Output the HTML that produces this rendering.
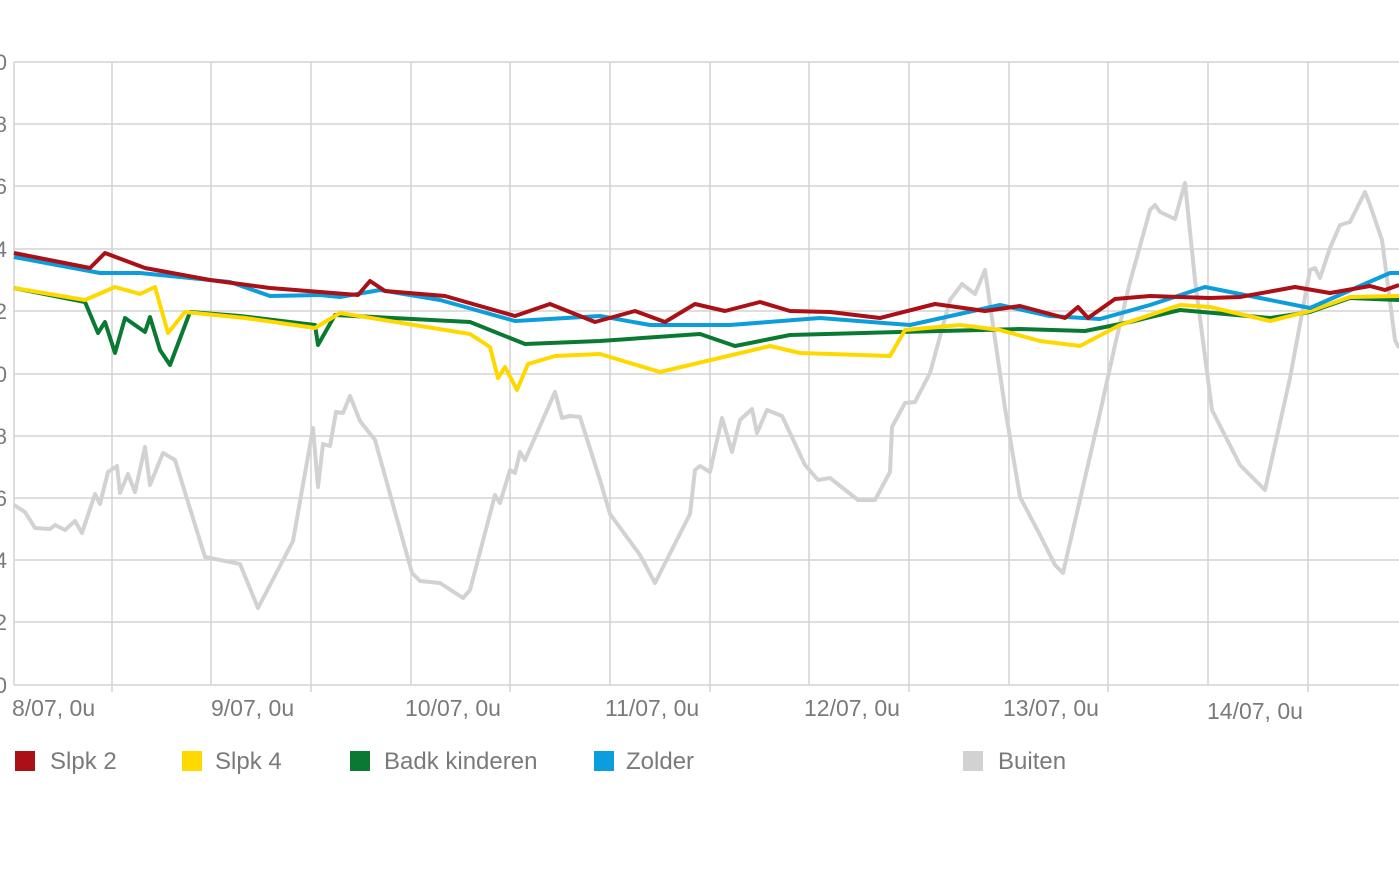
<!DOCTYPE html>
<html><head><meta charset="utf-8"><style>
html,body{margin:0;padding:0;background:#fff;width:1399px;height:876px;overflow:hidden}
text{font-family:"Liberation Sans Narrow","Liberation Sans",sans-serif;fill:#7a7a7a}
</style></head><body>
<svg width="1399" height="876" viewBox="0 0 1399 876">
<g stroke="#d4d4d4" stroke-width="1.5" fill="none">
<path d="M14 62H1399M14 124H1399M14 186H1399M14 249H1399M14 311H1399M14 374H1399M14 436H1399M14 498H1399M14 560H1399M14 622H1399M14 685H1399"/>
<path d="M14 62V685M112 62V692M211 62V685M311 62V692M411 62V685M510 62V692M610 62V685M710 62V692M809 62V685M909 62V692M1009 62V685M1108 62V692M1208 62V685M1308 62V692"/>
</g>
<g font-size="22" text-anchor="end">
<text x="7" y="70">30</text><text x="7" y="132">28</text><text x="7" y="194">26</text><text x="7" y="257">24</text><text x="7" y="319">22</text><text x="7" y="382">20</text><text x="7" y="444">18</text><text x="7" y="506">16</text><text x="7" y="568">14</text><text x="7" y="630">12</text><text x="7" y="693">10</text>
</g>
<g font-size="23">
<text x="12" y="716">8/07, 0u</text><text x="211" y="716">9/07, 0u</text><text x="405" y="716">10/07, 0u</text><text x="605" y="716">11/07, 0u</text><text x="804" y="716">12/07, 0u</text><text x="1003" y="716">13/07, 0u</text><text x="1207" y="719">14/07, 0u</text>
</g>
<g fill="none" stroke-width="4" stroke-linejoin="round">
<polyline stroke="#d2d2d2" points="14,505 25,512 35,528 50,529 55,525 65,530 75,521 82,533 95,494 100,504 108,472 117,466 120,493 128,474 135,492 145,447 150,485 163,453 175,460 205,557 240,564 258,608 293,541 313,428 318,487 323,444 330,446 336,412 343,413 350,396 360,421 375,440 412,573 420,581 440,583 463,598 470,590 495,495 500,503 510,470 515,473 520,452 525,460 555,392 562,418 570,416 580,417 600,480 610,514 640,555 655,583 690,514 695,470 700,466 710,472 722,418 732,452 740,420 752,409 757,433 767,410 782,416 805,465 818,480 830,478 858,500 875,500 890,472 892,427 905,403 915,402 930,373 950,300 962,284 975,294 985,270 1005,408 1020,497 1040,535 1055,565 1063,573 1100,413 1115,345 1130,282 1150,210 1155,205 1160,212 1175,219 1185,183 1195,280 1212,410 1240,465 1265,490 1290,378 1310,270 1315,268 1320,278 1330,248 1340,225 1350,222 1365,192 1370,205 1382,240 1395,340 1399,348"/>
<polyline stroke="#0a7a33" points="14,288 85,302 98,333 105,322 115,353 125,318 145,332 150,317 160,350 170,365 190,312 240,316 315,325 318,345 335,315 470,322 525,344 600,341 700,334 735,346 790,335 900,332 1020,329 1085,331 1130,322 1180,310 1270,318 1310,312 1350,298 1399,300"/>
<polyline stroke="#ffd800" points="14,288 85,300 115,287 140,294 155,287 168,333 185,312 245,318 315,328 340,313 470,334 490,347 498,378 505,367 517,390 528,364 555,356 600,354 660,372 770,346 800,353 890,356 905,330 960,325 1000,330 1040,341 1080,346 1120,325 1180,305 1210,307 1270,321 1310,311 1350,297 1399,296"/>
<polyline stroke="#0b9ddc" points="14,257 100,273 140,273 230,282 270,296 320,295 340,297 380,290 440,300 515,321 600,316 650,325 730,325 820,318 910,325 1000,305 1050,316 1100,319 1150,305 1205,287 1260,298 1310,308 1360,286 1390,273 1399,273"/>
<polyline stroke="#aa1016" points="14,253 90,268 105,253 145,268 210,280 270,288 358,295 370,281 385,291 445,296 515,316 550,304 595,322 635,311 665,322 695,304 725,311 760,302 790,311 830,312 880,318 935,304 985,311 1020,306 1065,318 1078,307 1088,318 1115,299 1150,296 1210,298 1240,297 1295,287 1330,293 1370,286 1385,290 1399,285"/>
</g>
<rect x="15" y="751" width="20" height="20" fill="#aa1016"/>
<rect x="182" y="751" width="20" height="20" fill="#ffd800"/>
<rect x="350" y="751" width="20" height="20" fill="#0a7a33"/>
<rect x="594" y="751" width="20" height="20" fill="#0b9ddc"/>
<rect x="963" y="751" width="20" height="20" fill="#d2d2d2"/>
<g font-size="24">
<text x="50" y="769">Slpk 2</text><text x="215" y="769">Slpk 4</text><text x="384" y="769">Badk kinderen</text><text x="626" y="769">Zolder</text><text x="998" y="769">Buiten</text>
</g>
</svg>
</body></html>
